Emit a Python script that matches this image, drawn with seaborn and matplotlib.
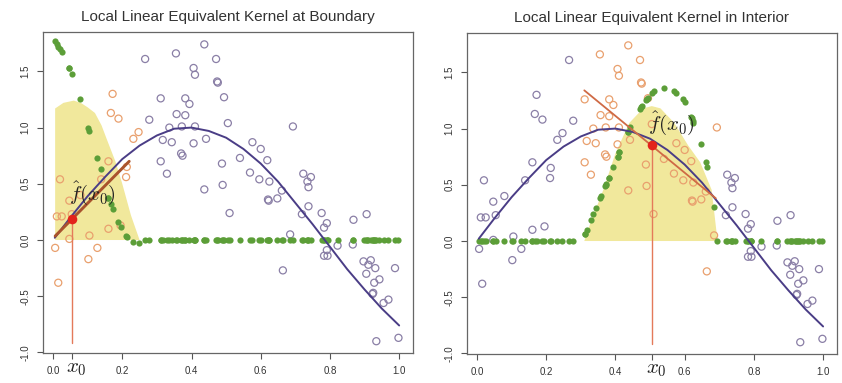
import numpy as np
import pandas as pd
import matplotlib
matplotlib.use("Agg")
import matplotlib.pyplot as plt
import seaborn as sns

sns.set_theme(style="white")
plt.rcParams["font.family"] = ["Liberation Sans", "DejaVu Sans"]
plt.rcParams["mathtext.fontset"] = "cm"

# ---- observations (x, y) ----
x_obs = [0.006, 0.011, 0.015, 0.020, 0.025, 0.047, 0.047, 0.054, 0.079, 0.102,
         0.105, 0.128, 0.139, 0.160, 0.160, 0.167, 0.172, 0.189, 0.195, 0.211,
         0.213, 0.232, 0.247, 0.266, 0.278, 0.311, 0.311, 0.317, 0.329, 0.336,
         0.343, 0.355, 0.357, 0.370, 0.372, 0.374, 0.382, 0.382, 0.394, 0.406,
         0.406, 0.410, 0.410, 0.437, 0.437, 0.442, 0.471, 0.474, 0.476, 0.488,
         0.490, 0.494, 0.505, 0.510, 0.540, 0.569, 0.576, 0.596, 0.600, 0.619,
         0.621, 0.623, 0.625, 0.648, 0.661, 0.664, 0.685, 0.693, 0.719, 0.723,
         0.735, 0.738, 0.738, 0.745, 0.776, 0.783, 0.791, 0.783, 0.791, 0.793,
         0.822, 0.866, 0.868, 0.897, 0.905, 0.906, 0.911, 0.918, 0.923, 0.925,
         0.928, 0.931, 0.934, 0.943, 0.955, 0.969, 0.988, 0.998]
y_obs = [-0.07, 0.21, -0.38, 0.54, 0.21, 0.01, 0.35, 0.23, 0.40, -0.17,
         0.04, -0.07, 0.54, 0.10, 0.70, 1.13, 1.30, 1.08, 0.13, 0.56,
         0.65, 0.90, 0.96, 1.61, 1.07, 1.26, 0.70, 0.89, 0.59, 1.00,
         0.87, 1.66, 1.12, 0.77, 1.01, 0.75, 1.26, 1.11, 1.21, 1.53,
         0.86, 1.47, 1.01, 1.74, 0.45, 0.90, 1.61, 1.41, 1.40, 0.68,
         0.49, 1.27, 1.04, 0.24, 0.73, 0.60, 0.87, 0.54, 0.81, 0.71,
         0.36, 0.35, 0.52, 0.37, 0.44, -0.27, 0.05, 1.01, 0.23, 0.59,
         0.52, 0.47, 0.30, 0.56, 0.24, 0.11, 0.15, -0.14, -0.09, -0.14,
         -0.05, -0.04, 0.18, -0.19, -0.30, 0.23, -0.22, -0.18, -0.48, -0.47,
         -0.38, -0.25, -0.90, -0.35, -0.56, -0.53, -0.25, -0.87]

# equivalent-kernel weights (scaled) at each observation, for each target point
w_boundary = [1.77, 1.74, 1.72, 1.70, 1.67, 1.53, 1.53, 1.48, 1.25, 1.00,
              0.97, 0.73, 0.63, 0.37, 0.37, 0.32, 0.28, 0.16, 0.12, 0.04,
              0.03, -0.02, -0.03] + [0.0] * 75
w_interior = [0.0] * 25 + [
              0.06, 0.06, 0.10, 0.19, 0.24, 0.29, 0.38, 0.40, 0.49, 0.50,
              0.51, 0.56, 0.56, 0.66, 0.75, 0.75, 0.79, 0.79, 0.97, 0.97,
              1.01, 1.17, 1.19, 1.20, 1.25, 1.26, 1.27, 1.32, 1.33, 1.36,
              1.33, 1.32, 1.26, 1.24, 1.10, 1.09, 1.07, 1.05, 0.86, 0.70,
              0.66, 0.30] + [0.0] * 31

# true regression function
curve_x = [0.005, 0.05, 0.10, 0.15, 0.20, 0.25, 0.30, 0.35, 0.40, 0.45, 0.50,
           0.55, 0.60, 0.65, 0.70, 0.75, 0.80, 0.85, 0.90, 0.95, 1.00]
curve_y = [0.02, 0.20, 0.39, 0.56, 0.72, 0.84, 0.93, 0.99, 1.00, 0.97, 0.91,
           0.81, 0.68, 0.52, 0.33, 0.14, -0.06, -0.26, -0.44, -0.61, -0.76]

# kernel profiles (shaded)
kern_b_x = [0.006, 0.006, 0.03, 0.06, 0.08, 0.10, 0.121, 0.14, 0.156, 0.18, 0.20, 0.225, 0.25]
kern_b_y = [0.0, 1.17, 1.22, 1.24, 1.22, 1.18, 1.13, 1.02, 0.89, 0.70, 0.50, 0.22, 0.0]
kern_i_x = [0.31, 0.33, 0.365, 0.40, 0.44, 0.48, 0.505, 0.53, 0.57, 0.61, 0.645, 0.678, 0.695]
kern_i_y = [0.0, 0.18, 0.455, 0.78, 1.05, 1.18, 1.20, 1.18, 1.05, 0.85, 0.70, 0.455, 0.0]

# target points, fitted values and local fitted lines
x0_vals = [0.055, 0.505]
fhat_vals = [0.19, 0.85]
fit_x = [[0.006, 0.22], [0.31, 0.69]]
fit_y = [[0.035, 0.70], [1.34, 0.38]]
windows = [(-0.2, 0.25), (0.30, 0.70)]

titles = ["Local Linear Equivalent Kernel at Boundary",
          "Local Linear Equivalent Kernel in Interior"]
xticks = [[0.0, 0.055, 0.2, 0.4, 0.6, 0.8, 1.0], [0.0, 0.2, 0.4, 0.505, 0.6, 0.8, 1.0]]
xticklabels = [["0.0", "", "0.2", "0.4", "0.6", "0.8", "1.0"],
               ["0.0", "0.2", "0.4", "", "0.6", "0.8", "1.0"]]
yticks = [-1.0, -0.5, 0.0, 0.5, 1.0, 1.5]
yticklabels = ["-1.0", "-0.5", "0.0", "0.5", "1.0", "1.5"]
label_pos = [(0.113, 0.42), (0.561, 1.05)]

ORANGE = "#E9A06E"
PURPLE = "#8A7FA6"
CURVE = "#4A3D86"
YELLOW = "#F1E89C"
GREEN = "#5C9E38"
RED = "#E3231B"
FITC = ["#A9532C", "#CF6A45"]

df = pd.DataFrame({"x": x_obs, "y": y_obs})

fig = plt.figure(figsize=(8.42, 3.83), dpi=100)
axes = [fig.add_axes([0.0511, 0.0783, 0.4394, 0.8381]),
        fig.add_axes([0.5546, 0.0757, 0.4394, 0.8381])]

for k, ax in enumerate(axes):
    kx, ky = (kern_b_x, kern_b_y) if k == 0 else (kern_i_x, kern_i_y)
    ax.fill(kx, ky, color=YELLOW, lw=0, zorder=1)

    lo, hi = windows[k]
    inside = (df["x"] > lo) & (df["x"] < hi)
    sns.scatterplot(data=df[~inside], x="x", y="y", ax=ax, color=PURPLE,
                    facecolors="none", edgecolor=PURPLE, linewidth=0.9, s=26, zorder=3)
    sns.scatterplot(data=df[inside], x="x", y="y", ax=ax, color=ORANGE,
                    facecolors="none", edgecolor=ORANGE, linewidth=0.9, s=26, zorder=3)

    w = w_boundary if k == 0 else w_interior
    sns.scatterplot(x=x_obs, y=w, ax=ax, color=GREEN, edgecolor=GREEN,
                    linewidth=0, s=20, zorder=4)

    sns.lineplot(x=curve_x, y=curve_y, ax=ax, color=CURVE, lw=1.4, sort=False,
                 estimator=None, zorder=5)
    sns.lineplot(x=fit_x[k], y=fit_y[k], ax=ax, color=FITC[k],
                 lw=2.1 if k == 0 else 1.3, sort=False, estimator=None, zorder=6)

    ax.plot([x0_vals[k], x0_vals[k]], [-0.92, fhat_vals[k]], color="#E47A5A",
            lw=1.0, zorder=6)
    sns.scatterplot(x=[x0_vals[k]], y=[fhat_vals[k]], ax=ax, color=RED,
                    edgecolor=RED, linewidth=0, s=48, zorder=7)

    ax.text(label_pos[k][0], label_pos[k][1], r"$\hat{f}(x_0)$", fontsize=15,
            ha="center", va="center", color="#222222", zorder=8)

    ax.set_xlim(-0.029, 1.040)
    ax.set_ylim(-1.005, 1.85)
    ax.set_xticks(xticks[k])
    ax.set_xticklabels(xticklabels[k])
    ax.set_yticks(yticks)
    ax.set_yticklabels(yticklabels, rotation=90, va="center")
    ax.tick_params(axis="both", which="both", direction="out", length=4,
                   width=0.8, color="#555555", labelsize=7, labelcolor="#333333",
                   bottom=True, left=True, pad=5)
    # target-point label under its tick
    ax.text(x0_vals[k] + 0.012, -0.048, r"$x_0$", transform=ax.get_xaxis_transform(),
            fontsize=15, ha="center", va="center", color="#222222", clip_on=False)
    ax.set_xlabel("")
    ax.set_ylabel("")
    for sp in ax.spines.values():
        sp.set_color("#666666")
        sp.set_linewidth(0.9)
        sp.set_visible(True)
    ax.set_title(titles[k], fontsize=11, color="#333333", pad=8)
    ax.set_facecolor("white")

fig.savefig("out.png", dpi=100)
